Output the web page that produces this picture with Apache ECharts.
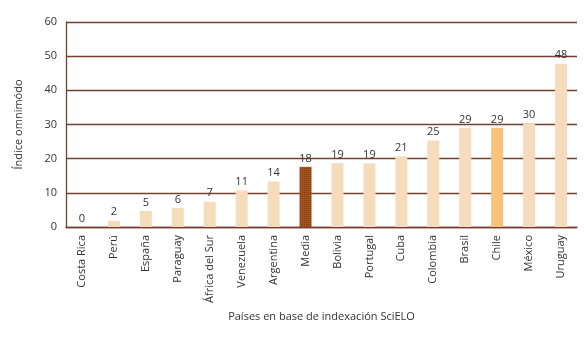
<!DOCTYPE html>
<html>
<head>
<meta charset="utf-8">
<script src="https://cdn.jsdelivr.net/npm/echarts@6/dist/echarts.min.js"></script>
<style>
  html, body { margin: 0; padding: 0; background: #fff; }
  #chart { width: 586px; height: 340px; }
</style>
</head>
<body>
<div id="chart"></div>
<script>
// países (la media va en medio)
const paises = ['Costa Rica', 'Perú', 'España', 'Paraguay', 'África del Sur', 'Venezuela', 'Argentina',
  'Media', 'Bolivia', 'Portugal', 'Cuba', 'Colombia', 'Brasil', 'Chile', 'México', 'Uruguay']
// índice omnimódo (alto de barra)
const indice = [0, 1.8, 4.7, 5.6, 7.4, 10.7, 13.3, 17.6, 18.7, 18.6, 20.7, 25.3, 29.0, 29.0, 30.2, 47.8]
// etiquetas que se ven encima
const etiquetas = [0, 2, 5, 6, 7, 11, 14, 18, 19, 19, 21, 25, 29, 29, 30, 48]
const ticksY = [0, 10, 20, 30, 40, 50, 60]

const colorBase = '#f6dcbd'
const colorMedia = '#a3531b'
const colorChile = '#f6c27c'
const marron = '#74402f'
const fuente = '"Open Sans", "DejaVu Sans", sans-serif'

let chart = echarts.init(document.getElementById('chart'))

let datos = indice.map((v, i) => {
  let estilo = { color: colorBase }
  if (paises[i] === 'Chile') estilo = { color: colorChile }
  if (paises[i] === 'Media') {
    // la media lleva una trama de cuadritos
    estilo = {
      color: colorMedia,
      decal: { symbol: 'rect', symbolSize: 1, dashArrayX: [1, 1], dashArrayY: [1, 1], color: 'rgba(60,20,0,0.35)' }
    }
  }
  return { value: v, itemStyle: estilo }
})

chart.setOption({
  animation: false,
  textStyle: { fontFamily: fuente },
  grid: { left: 66, right: 9, top: 22, bottom: 113 },
  xAxis: {
    type: 'category',
    data: paises,
    name: 'Países en base de indexación SciELO',
    nameLocation: 'middle',
    nameGap: 84,
    nameTextStyle: { color: '#333', fontSize: 11, fontFamily: fuente },
    axisLine: { lineStyle: { color: marron, width: 1.3 } },
    axisTick: { show: false },
    axisLabel: { rotate: 90, color: '#333', fontSize: 11, margin: 8, interval: 0, fontFamily: fuente }
  },
  yAxis: {
    type: 'value',
    min: ticksY[0],
    max: ticksY[ticksY.length - 1],
    interval: 10,
    name: 'Índice omnimódo',
    nameLocation: 'middle',
    nameGap: 42,
    nameTextStyle: { color: '#333', fontSize: 11, fontFamily: fuente },
    axisLine: { show: true, lineStyle: { color: marron, width: 1.3 } },
    axisTick: { show: false },
    axisLabel: { color: '#333', fontSize: 11, margin: 9, fontFamily: fuente },
    splitLine: { lineStyle: { color: marron, width: 1.3 } }
  },
  series: [{
    type: 'bar',
    data: datos,
    barWidth: 12,
    label: {
      show: true,
      position: 'top',
      distance: 3,
      color: '#333',
      fontSize: 11,
      fontFamily: fuente,
      formatter: (p) => etiquetas[p.dataIndex]
    }
  }]
})
</script>
</body>
</html>
